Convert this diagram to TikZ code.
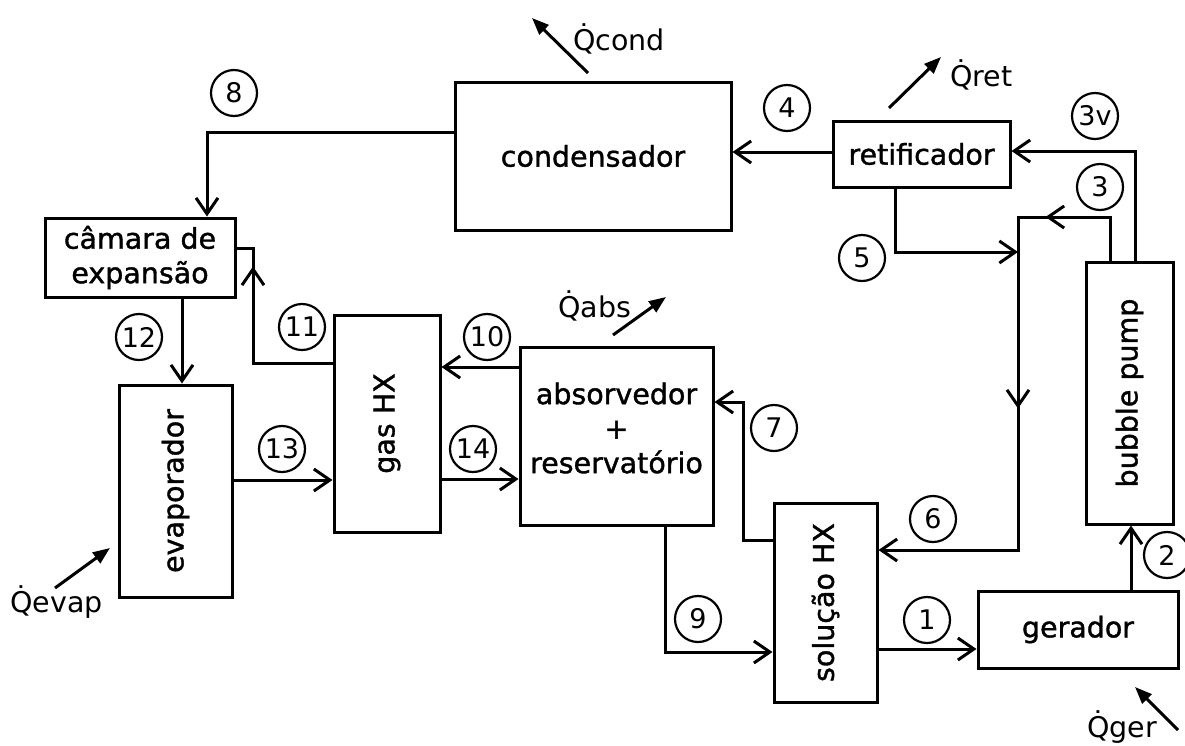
\documentclass[tikz,border=0pt]{standalone}
\usepackage{fontspec}
\setmainfont{DejaVu Sans}[AutoFakeBold=1.3]
\usepackage{graphicx}
\usetikzlibrary{arrows.meta,decorations.markings}
\tikzset{barb/.tip={Straight Barb[length=16pt,width=22pt]}}
\begin{document}
\begin{tikzpicture}[x=1pt,y=-1pt,
  box/.style={draw, line width=3pt, rectangle, inner sep=0pt, font=\fontsize{28.5}{34.5}\selectfont\bfseries, align=center},
  boxtext/.style={inner sep=0pt, font=\fontsize{28.5}{34.5}\selectfont\bfseries, align=center},
  num/.style={draw, circle, line width=2.2pt, minimum size=46pt, inner sep=0pt, font=\fontsize{27}{30}\selectfont},
  heat/.style={font=\fontsize{28.5}{34}\selectfont, inner sep=0pt, anchor=base west},
  flow/.style={line width=3pt, -barb},
  pipe/.style={line width=3pt},
  qarrow/.style={line width=3pt, -{Triangle[length=17pt,width=13pt]}}
]
\useasboundingbox (0,0) rectangle (1185,745);
\fill[white] (0,0) rectangle (1185,745);

% ---- components
\node[box, minimum width=276pt, minimum height=148pt] (cond) at (593,156) {condensador};
\node[box, minimum width=177pt, minimum height=66pt] (ret) at (921.5,154) {retificador};
\node[box, minimum width=190pt, minimum height=79pt] (cam) at (140,257.5) {câmara de\\expansão};
\node[box, minimum width=113pt, minimum height=212pt] (evap) at (175.5,491) {\rotatebox{90}{evaporador}};
\node[box, minimum width=106pt, minimum height=217pt] (gas) at (387,423.5) {\rotatebox{90}{gas HX}};
\node[box, minimum width=193pt, minimum height=178pt] (abs) at (616.5,436) {};
\node[boxtext] (abstxt) at (616.5,428) {absorvedor\\+\\reservatório};
\node[box, minimum width=103pt, minimum height=199pt] (sol) at (825.5,602.5) {\rotatebox{90}{solução HX}};
\node[box, minimum width=200pt, minimum height=77pt] (ger) at (1078,629.5) {gerador};
\node[box, minimum width=87pt, minimum height=262pt] (bp) at (1129.5,393) {\rotatebox{90}{bubble pump}};

% ---- route points
\coordinate (c8) at (207,132);
\coordinate (c4) at (780,152);
\coordinate (c3v) at (1135,151);
\coordinate (c3a) at (1110,217);
\coordinate (j3) at (1018,217);
\coordinate (j6) at (1018,550);
\coordinate (c5) at (895,252);
\coordinate (c2) at (1131,560);
\coordinate (c1) at (927,649);
\coordinate (c9) at (665,652);
\coordinate (c7a) at (743,540);
\coordinate (c7b) at (743,402);
\coordinate (c10) at (480,367);
\coordinate (c14) at (480,479);
\coordinate (c13) at (283,480);
\coordinate (c11a) at (253,363);
\coordinate (c11b) at (253,248);
\coordinate (c12) at (182,340);

% ---- connectors
\draw[flow] (cond.west |- c8) -- (c8) -- (cam.north -| c8);
\draw[flow] (ret.west |- c4) -- (cond.east |- c4);
\draw[flow] (bp.north -| c3v) -- (c3v) -- (ret.east |- c3v);
\draw[flow, postaction=decorate, decoration={markings,
    mark=at position 108pt with {\arrow{barb}},
    mark=at position 327pt with {\arrow{barb}}}]
  (bp.north -| c3a) -- (c3a) -- (j3) -- (j6) -- (sol.east |- j6);
\draw[flow] (ret.south -| c5) -- (c5) -- (j3 |- c5);
\draw[flow] (ger.north -| c2) -- (bp.south -| c2);
\draw[flow] (sol.east |- c1) -- (ger.west |- c1);
\draw[flow] (abs.south -| c9) -- (c9) -- (sol.west |- c9);
\draw[flow] (sol.west |- c7a) -- (c7a) -- (c7b) -- (abs.east |- c7b);
\draw[flow] (abs.west |- c10) -- (gas.east |- c10);
\draw[flow] (gas.east |- c14) -- (abs.west |- c14);
\draw[flow] (evap.east |- c13) -- (gas.west |- c13);
\draw[pipe, postaction=decorate, decoration={markings,
    mark=at position 176pt with {\arrow{barb}}}]
  (gas.west |- c11a) -- (c11a) -- (c11b) -- (cam.east |- c11b);
\draw[flow] (cam.south -| c12) -- (evap.north -| c12);

% ---- state numbers
\node[num] (n1) at (927,620) {1};
\node[num] (n2) at (1167,555) {2};
\node[num] (n3) at (1100,187) {3};
\node[num] (n3v) at (1095,116) {3v};
\node[num] (n4) at (787,108) {4};
\node[num] (n5) at (862,258) {5};
\node[num] (n6) at (933,519) {6};
\node[num] (n7) at (774,428) {7};
\node[num] (n8) at (234,93) {8};
\node[num] (n9) at (698,619) {9};
\node[num] (n10) at (487,337) {10};
\node[num] (n11) at (302,327) {11};
\node[num] (n12) at (139,337) {12};
\node[num] (n13) at (282,449) {13};
\node[num] (n14) at (473,449) {14};

% ---- heat flows
\coordinate (qc1) at (588,73);  \coordinate (qc2) at (532,18);
\coordinate (qr1) at (889,108); \coordinate (qr2) at (941,57);
\coordinate (qa1) at (613,335); \coordinate (qa2) at (666,297);
\coordinate (qe1) at (55,588);  \coordinate (qe2) at (110,548);
\coordinate (qg1) at (1178,730); \coordinate (qg2) at (1135,687);
\draw[qarrow] (qc1) -- (qc2);
\draw[qarrow] (qr1) -- (qr2);
\draw[qarrow] (qa1) -- (qa2);
\draw[qarrow] (qe1) -- (qe2);
\draw[qarrow] (qg1) -- (qg2);
\node[heat] (Qcond) at (573,50) {\.{Q}cond};
\node[heat] (Qret) at (950,86) {\.{Q}ret};
\node[heat] (Qabs) at (558,317) {\.{Q}abs};
\node[heat] (Qevap) at (10,612) {\.{Q}evap};
\node[heat] (Qger) at (1087,737) {\.{Q}ger};
\end{tikzpicture}
\end{document}
